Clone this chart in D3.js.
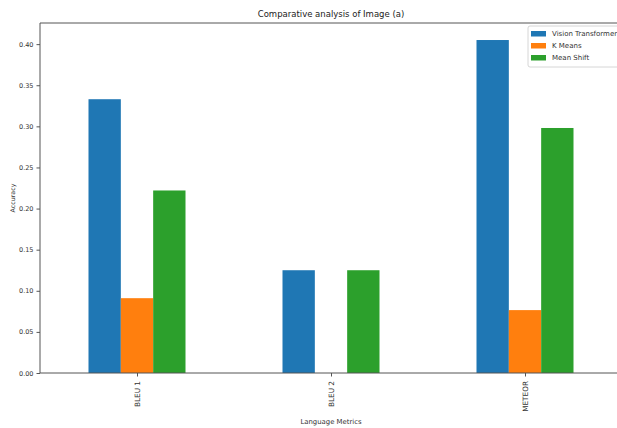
<!DOCTYPE html>
<html>
<head>
<meta charset="utf-8">
<script src="https://cdn.jsdelivr.net/npm/d3@7"></script>
<style>
  html, body { margin: 0; padding: 0; background: #fff; }
  svg { display: block; font-family: "DejaVu Sans", sans-serif; }
</style>
</head>
<body>
<svg id="chart" width="617" height="428"></svg>
<script>
// Language metrics compared across three segmentation/captioning approaches
const categories = ["BLEU 1", "BLEU 2", "METEOR"];
const seriesNames = ["Vision Transformer", "K Means", "Mean Shift"];
const visionTransformer = [0.333, 0.125, 0.405];
const kMeans = [0.091, 0.0, 0.0765];
const meanShift = [0.222, 0.125, 0.298];
const yTicks = [0.00, 0.05, 0.10, 0.15, 0.20, 0.25, 0.30, 0.35, 0.40];
const colors = ["#1f77b4", "#ff7f0e", "#2ca02c"];

const seriesValues = [visionTransformer, kMeans, meanShift];

const svg = d3.select("#chart");
const W = 617, H = 428;
const margin = { left: 40, top: 23, right: -5, bottom: 55 };
const x0 = margin.left, x1 = W - margin.right;
const yTop = margin.top, yBottom = H - margin.bottom;

// Category positions at 0..n-1, with half-unit padding on both sides
const x = d3.scaleLinear().domain([-0.5, categories.length - 0.5]).range([x0, x1]);
const y = d3.scaleLinear().domain([0, 0.4257]).range([yBottom, yTop]);

const groupWidth = 0.5;
const barW = groupWidth / seriesNames.length;

const plot = svg.append("g");

seriesNames.forEach((name, s) => {
  plot.append("g")
    .selectAll("rect")
    .data(categories.map((c, i) => ({ i, v: seriesValues[s][i] })))
    .join("rect")
    .attr("x", d => x(d.i - groupWidth / 2 + s * barW))
    .attr("width", d => x(barW) - x(0))
    .attr("y", d => y(d.v))
    .attr("height", d => y(0) - y(d.v))
    .attr("fill", colors[s]);
});

// Axes
const textColor = "#333";
const axisColor = "#555";

const yAxis = svg.append("g")
  .attr("transform", `translate(${x0},0)`)
  .call(d3.axisLeft(y).tickValues(yTicks).tickFormat(d3.format(".2f")).tickSize(3.5).tickPadding(3));
yAxis.select(".domain").remove();
yAxis.selectAll("line").attr("stroke", axisColor);
yAxis.selectAll("text").attr("fill", textColor).style("font-size", "6.5px").style("font-family", "DejaVu Sans");

const xAxis = svg.append("g")
  .attr("transform", `translate(0,${yBottom})`)
  .call(d3.axisBottom(x).tickValues(categories.map((c, i) => i)).tickFormat(i => categories[i]).tickSize(3.5));
xAxis.select(".domain").remove();
xAxis.selectAll("line").attr("stroke", axisColor);
xAxis.selectAll("text")
  .attr("fill", textColor)
  .style("font-size", "7.3px")
  .style("font-family", "DejaVu Sans")
  .attr("transform", "rotate(-90)")
  .attr("text-anchor", "end")
  .attr("x", -8)
  .attr("y", 0)
  .attr("dy", "0.35em");

// Spines
svg.append("line").attr("x1", x0).attr("x2", x0).attr("y1", yTop).attr("y2", yBottom)
  .attr("stroke", axisColor).attr("stroke-width", 1);
svg.append("line").attr("x1", x0).attr("x2", W).attr("y1", yBottom).attr("y2", yBottom)
  .attr("stroke", axisColor).attr("stroke-width", 1);
svg.append("line").attr("x1", x0).attr("x2", W).attr("y1", yTop).attr("y2", yTop)
  .attr("stroke", axisColor).attr("stroke-width", 1);

// Titles
svg.append("text")
  .attr("x", (x0 + x1) / 2).attr("y", 17)
  .attr("text-anchor", "middle")
  .attr("fill", "#222")
  .style("font-size", "8.5px")
  .text("Comparative analysis of Image (a)");

svg.append("text")
  .attr("x", (x0 + x1) / 2).attr("y", 424)
  .attr("text-anchor", "middle")
  .attr("fill", textColor)
  .style("font-size", "6.9px")
  .text("Language Metrics");

svg.append("text")
  .attr("transform", `translate(15,${(yTop + yBottom) / 2}) rotate(-90)`)
  .attr("text-anchor", "middle")
  .attr("fill", textColor)
  .style("font-size", "6.3px")
  .text("Accuracy");

// Legend
const legend = svg.append("g").attr("transform", "translate(528,26)");
legend.append("rect")
  .attr("x", 0).attr("y", 0).attr("width", 100).attr("height", 41)
  .attr("rx", 2)
  .attr("fill", "#fff").attr("fill-opacity", 0.8)
  .attr("stroke", "#ccc").attr("stroke-width", 0.8);
seriesNames.forEach((name, s) => {
  const row = legend.append("g").attr("transform", `translate(3,${4 + s * 12})`);
  row.append("rect").attr("width", 15).attr("height", 5.5).attr("y", 1).attr("fill", colors[s]);
  row.append("text").attr("x", 21).attr("y", 4).attr("dy", "0.35em")
    .attr("fill", textColor).style("font-size", "7px").text(name);
});
</script>
</body>
</html>
